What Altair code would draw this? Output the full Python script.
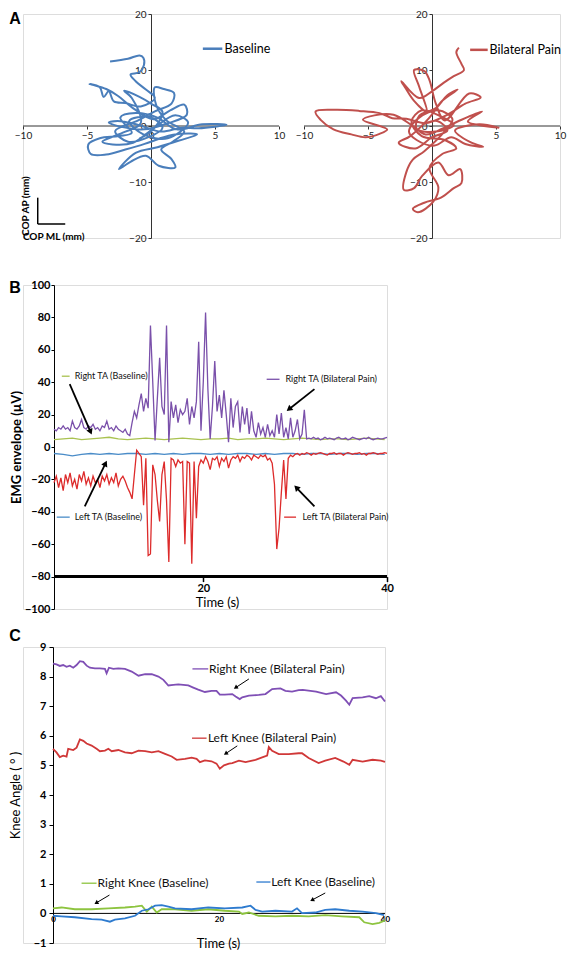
import math
import altair as alt
import pandas as pd

FONT = "Lato"

# ---------------- Panel A : centre of pressure traces (mm) ----------------
cop_baseline = [
    (-3.2, 11.5), (-1.8, 12.0), (-0.9, 12.6), (-0.6, 12.2), (-0.55, 10.9), (-0.9, 9.6),
    (-1.6, 9.2), (-1.2, 8.0), (-0.4, 6.5), (0.3, 5.0), (-0.8, 3.5), (-2.0, 4.1),
    (-2.9, 4.4), (-3.3, 6.2), (-3.7, 5.2), (-4.0, 6.9), (-4.8, 7.5), (-3.5, 6.6),
    (-2.6, 5.4), (-1.3, 3.0), (0.2, 1.2), (1.5, 2.8), (2.6, 3.8), (2.8, 2.0),
    (1.2, 0.4), (-0.5, -0.6), (-2.2, -0.2), (-3.3, 0.6), (-2.6, 0.9), (-1.0, 0.2),
    (0.8, -1.0), (2.4, -0.3), (3.7, -0.4), (5.9, 0.2), (4.0, 0.3), (2.0, -0.6),
    (0.5, 1.5), (-1.2, 2.3), (-2.4, 1.5), (-1.5, -1.2), (-2.5, -1.8), (-4.0, -2.2),
    (-4.9, -3.3), (-4.7, -5.0), (-3.5, -5.1), (-2.0, -4.2), (-0.5, -3.2), (1.0, -2.0),
    (2.3, -1.4), (3.6, -1.5), (2.2, -2.6), (0.5, -3.8), (-1.2, -4.8), (-2.5, -7.7),
    (-1.6, -6.4), (-0.4, -5.3), (0.6, -7.1), (1.9, -7.4), (1.6, -5.9), (0.8, -4.2),
    (1.7, -2.8), (2.6, -1.0), (1.2, 1.0), (0.4, 3.8), (0.3, 6.9), (1.0, 6.6),
    (1.8, 5.9), (1.6, 4.0), (0.3, 2.6), (-1.0, 1.0), (-2.8, -0.9), (-1.8, -2.8),
    (-0.2, -2.0), (0.9, -0.3), (-0.1, 1.6), (-1.7, 0.9), (-0.6, -1.5), (1.3, -2.2),
    (2.9, 0.6), (1.9, 1.9), (0.2, -0.4), (-1.4, -3.0), (-3.0, -3.3), (-3.8, -2.8),
    (-2.2, -1.2), (-0.8, 0.5), (-1.5, 5.0), (-2.1, 6.3), (-0.9, 5.2), (0.0, 4.0),
    (0.9, 2.5), (0.0, -1.0), (-0.9, -2.2),
]
cop_pain = [
    (2.1, 14.0), (1.9, 13.2), (2.3, 11.1), (2.5, 10.0), (1.7, 8.9), (0.9, 7.7),
    (0.0, 6.2), (-1.0, 5.0), (-2.4, 8.0), (-2.1, 6.9), (-1.4, 4.5), (-0.4, 2.5),
    (-1.0, 7.0), (-1.4, 10.0), (-0.6, 9.8), (-0.2, 8.2), (0.3, 4.0), (1.0, 1.0),
    (2.9, 5.8), (3.8, 5.1), (2.6, 4.0), (1.2, 2.0), (-0.5, 0.5), (-2.0, 1.3),
    (-3.1, 1.4), (-4.1, 2.3), (-5.7, 2.7), (-7.5, 2.9), (-9.1, 2.6), (-8.7, 1.1),
    (-7.7, -0.6), (-6.3, -1.5), (-5.2, -2.0), (-4.1, -1.4), (-3.5, -0.6), (-5.4, 1.1),
    (-4.5, 1.9), (-3.0, 2.0), (-1.5, 0.0), (-0.5, -1.5), (0.8, -0.5), (2.0, 0.8),
    (3.9, 2.6), (2.8, 0.8), (5.2, -0.3), (3.7, 0.3), (1.8, -0.8), (3.0, -2.9),
    (4.0, -3.7), (2.6, -3.2), (1.5, -2.0), (0.2, -3.5), (-1.2, -2.5), (-1.8, -1.0),
    (-1.0, 1.5), (0.5, 2.8), (1.6, 1.2), (0.9, -1.2), (-0.6, -4.5), (-1.5, -6.0),
    (-2.0, -8.2), (-2.2, -11.4), (-1.4, -11.1), (-0.8, -9.0), (0.5, -6.5), (1.3, -8.8),
    (2.2, -7.7), (2.3, -10.2), (1.7, -11.1), (0.7, -12.8), (-0.6, -13.7), (-1.5, -14.8),
    (-1.1, -15.4), (0.1, -13.5), (0.5, -11.0), (-0.2, -7.5), (0.8, -5.0), (1.9, -4.0),
    (1.0, -2.5), (-0.8, -1.8), (-1.6, 0.8), (-0.8, 2.8), (0.6, 1.8), (1.7, 0.2),
    (0.3, -1.0), (-1.2, -0.5), (-1.0, 1.8), (0.3, 3.2), (1.2, 5.5), (2.0, 6.5),
    (0.8, 4.5), (-0.2, 1.5), (-1.7, -1.8), (-2.6, -3.0), (-1.3, -4.0), (0.0, -2.0),
    (1.2, -0.8), (0.4, 0.9), (-0.7, 0.3),
]
cop_ticks_x = [-10, -5, 0, 5, 10]
cop_ticks_y = [-20, -15, -10, -5, 0, 5, 10, 15, 20]

# ---------------- Panel B : EMG envelopes (uV) ----------------
emg_start, emg_step = 3.75, 0.25
right_ta_pain = [
    11, 10, 12, 11, 13, 11, 12, 10, 16, 12, 11, 13, 17, 12, 11, 13, 12, 14, 11, 12,
    10, 13, 12, 16, 11, 12, 10, 13, 11, 10, 9, 11, 8, 7,
    15, 22, 18, 26, 33, 22, 30, 24, 75, 40, 4, 30, 55, 25, 20, 75, 3, 28, 18, 26,
    15, 23, 20, 22, 30, 14, 25, 18, 28, 65, 10, 40, 83, 36, 5, 25, 53, 22, 32, 18,
    35, 20, 3, 30, 12, 25, 28, 9, 25, 14, 24, 8, 22, 10, 6, 15, 8, 12, 6, 14,
    7, 10, 6, 20, 8, 21, 6, 12, 5, 18, 6, 10, 17, 5, 8, 23, 5,
    5.5, 5, 6, 5, 5.5, 4.5, 5, 6, 5, 5.5, 5, 4.5, 5.5, 6, 5, 5, 5.5, 4.5, 5, 6,
    5.5, 5, 4.5, 5, 5.5, 5, 6, 5, 4.5, 5, 5.5, 5, 5, 5.5, 6,
]
left_ta_pain = [
    -22, -18, -25, -19, -27, -17, -22, -16, -24, -20, -26, -17, -21, -15, -23, -19,
    -24, -18, -22, -20, -25, -18, -21, -17, -23, -19, -22, -16, -24, -20, -18, -21, -25, -28,
    -32, -17, -2, -4, -6, -36, -7, -67, -66, -11, -17, -33, -46, -17, -9, -33, -71, -7,
    -8, -12, -8, -10, -9, -60, -9, -10, -72, -9, -44, -12, -8, -10, -6, -9, -14, -7,
    -8, -6, -12, -7, -9, -6, -13, -8, -6, -7, -5, -9, -6, -7, -5, -6, -8, -5, -6, -7,
    -5, -6, -5, -8, -7, -10, -23, -63, -50, -28, -8, -32, -7, -5, -6,
    -4.5, -4, -5, -4, -4.5, -3.5, -4, -5, -4, -4.5, -4, -3.5, -4, -4.5, -5, -4, -4,
    -3.5, -4.5, -4, -4, -5, -4, -3.5, -4, -4.5, -4, -4, -3.5, -4.5, -4, -5, -4, -4,
    -3.5, -4, -4.5, -4, -4, -3.5, -4,
]
base_step = 1.0
right_ta_base = [4.5, 5, 5.5, 4.5, 5, 5.5, 6, 5, 4.5, 5, 5.5, 5, 4.5, 5, 5.5, 5, 4.5, 5, 5,
                 5.5, 4.5, 5, 5, 5.5, 5, 4.5, 5, 5.5, 5, 4.5, 5, 5, 4.5, 5, 5.5, 5, 4.5]
left_ta_base = [-4, -4.5, -5.5, -4.5, -4, -4.5, -4, -4.5, -4, -4, -4.5, -4, -4.5, -4, -4.5,
                -4, -4, -4.5, -4, -4.5, -4, -4, -4.5, -4, -4.5, -4, -4, -4.5, -4, -4, -4.5,
                -4, -4, -4.5, -4, -4, -4.5]
emg_ticks_y = [-100, -80, -60, -40, -20, 0, 20, 40, 60, 80, 100]
emg_ticks_x = [20, 40]

# ---------------- Panel C : knee angles (deg) ----------------
right_knee_pain = [
    (0.0, 8.44), (0.42, 8.41), (0.82, 8.36), (1.23, 8.39), (1.63, 8.33), (2.03, 8.37),
    (2.44, 8.30), (2.84, 8.39), (3.24, 8.52), (3.65, 8.50), (4.05, 8.37), (4.45, 8.30),
    (5.05, 8.28), (5.65, 8.28), (6.26, 8.26), (6.46, 8.11), (6.74, 8.30), (7.27, 8.26),
    (7.87, 8.28), (8.67, 8.26), (9.48, 8.17), (10.3, 8.03), (11.1, 8.08), (11.9, 8.08),
    (12.7, 8.0), (13.3, 7.89), (13.9, 7.70), (14.5, 7.72), (15.1, 7.74), (15.7, 7.72),
    (16.3, 7.70), (16.9, 7.63), (17.5, 7.56), (18.3, 7.48), (19.1, 7.52), (19.7, 7.52),
    (20.1, 7.39), (20.7, 7.39), (21.6, 7.41), (22.0, 7.33), (22.5, 7.24), (22.8, 7.30),
    (23.6, 7.36), (24.8, 7.38), (25.6, 7.41), (26.4, 7.58), (27.4, 7.60), (28.0, 7.52),
    (28.8, 7.49), (29.6, 7.54), (30.1, 7.55), (31.7, 7.49), (32.9, 7.41), (34.1, 7.47),
    (34.7, 7.36), (35.3, 7.19), (35.7, 7.05), (36.1, 7.27), (37.3, 7.30), (38.1, 7.34),
    (38.9, 7.27), (39.5, 7.34), (40.0, 7.16),
]
left_knee_pain = [
    (0.0, 5.56), (0.42, 5.44), (0.82, 5.28), (1.23, 5.33), (1.63, 5.30), (1.83, 5.56),
    (2.44, 5.52), (2.84, 5.60), (3.24, 5.88), (3.65, 5.83), (4.05, 5.74), (4.65, 5.67),
    (5.25, 5.56), (5.65, 5.48), (6.26, 5.50), (6.67, 5.56), (7.07, 5.48), (7.87, 5.52),
    (8.67, 5.44), (9.48, 5.41), (10.3, 5.50), (11.1, 5.48), (11.9, 5.44), (12.7, 5.48),
    (13.5, 5.39), (14.3, 5.30), (14.9, 5.19), (15.9, 5.22), (16.7, 5.26), (17.3, 5.22),
    (17.7, 5.11), (18.3, 5.17), (19.1, 5.14), (19.7, 5.06), (20.1, 4.89), (20.6, 5.00),
    (21.2, 5.06), (21.6, 5.08), (22.4, 5.16), (23.2, 5.11), (24.4, 5.19), (25.2, 5.27),
    (25.8, 5.33), (26.0, 5.62), (26.4, 5.49), (27.2, 5.38), (28.4, 5.38), (29.6, 5.41),
    (30.0, 5.41), (30.8, 5.25), (32.0, 5.08), (32.8, 5.16), (34.0, 5.25), (35.0, 5.13),
    (35.7, 5.02), (36.1, 5.19), (37.3, 5.13), (38.5, 5.19), (39.5, 5.16), (40.0, 5.12),
]
right_knee_base = [
    (0.0, 0.17), (1.03, 0.20), (2.63, 0.14), (4.65, 0.14), (6.67, 0.17), (8.67, 0.20),
    (9.88, 0.23), (10.7, 0.26), (11.3, 0.06), (11.9, 0.23), (12.5, 0.03), (13.1, 0.14),
    (14.7, 0.14), (16.7, 0.09), (18.7, 0.14), (20.7, 0.09), (22.4, 0.06), (22.8, -0.02),
    (23.6, 0.03), (24.8, -0.08), (26.8, -0.10), (28.8, -0.08), (30.8, -0.10), (32.8, -0.06),
    (34.8, -0.10), (36.9, -0.13), (37.5, -0.30), (38.5, -0.36), (39.3, -0.32), (40.0, -0.24),
]
left_knee_base = [
    (0.0, -0.08), (1.03, -0.10), (2.63, -0.13), (4.65, -0.19), (5.86, -0.21), (6.86, -0.28),
    (7.46, -0.21), (8.67, -0.17), (9.88, -0.08), (10.7, 0.09), (11.5, 0.14), (12.3, 0.26),
    (13.1, 0.28), (13.9, 0.23), (14.7, 0.17), (16.7, 0.14), (18.7, 0.20), (20.7, 0.17),
    (22.8, 0.20), (23.8, 0.26), (24.4, 0.12), (25.2, 0.06), (26.8, 0.09), (28.8, 0.06),
    (29.4, 0.17), (30.0, 0.01), (31.6, 0.03), (32.8, 0.12), (34.0, 0.14), (35.7, 0.09),
    (37.3, 0.06), (38.9, 0.01), (39.9, -0.06),
]
knee_ticks_y = [-1, 0, 1, 2, 3, 4, 5, 6, 7, 8, 9]
knee_ticks_x = [0, 20, 40]

# ---------------- layout constants ----------------
A_PW, A_H, A_GAP = 256, 224, 25
A_TW = 2 * A_PW + A_GAP
A_PPU = A_PW / 20.0
B_W, B_H, B_E = 333, 324, 31          # B_E: blank strip left of the EMG y-axis
C_W, C_H, C_E = 332, 296, 30
B_T = [3.75, 40]
B_YDOM = [-100, 100]
C_T = [0, 40]
C_YDOM = [-1, 9]
ROW_GAP = 12

COL_A_BASE, COL_A_PAIN = "#4A7EBB", "#C0504D"
COL_B = {"Right TA (Baseline)": "#A9C250", "Left TA (Baseline)": "#4A8CC8",
         "Right TA (Bilateral Pain)": "#7A50AA", "Left TA (Bilateral Pain)": "#DD2B2B"}
COL_C = {"Right Knee (Baseline)": "#8DC43F", "Left Knee (Baseline)": "#2E7BCF",
         "Right Knee (Bilateral Pain)": "#7F4FB5", "Left Knee (Bilateral Pain)": "#D03838"}


def arrow_frames(arrows, xppu, yppu, back_px):
    rules, heads = [], []
    for (x1, y1, x2, y2) in arrows:
        dx = (x2 - x1) * xppu
        dy = -(y2 - y1) * yppu
        length = math.hypot(dx, dy)
        ux, uy = dx / length, dy / length
        ang = math.degrees(math.atan2(ux, -uy)) % 360
        cx = x2 - ux * back_px / xppu
        cy = y2 + uy * back_px / yppu
        rules.append(dict(x=x1, y=y1, x2=cx, y2=cy))
        heads.append(dict(x=cx, y=cy, angle=ang))
    return pd.DataFrame(rules), pd.DataFrame(heads)


def letter(ch, dx, dy, opacity=1.0, baseline="middle"):
    return alt.Chart(pd.DataFrame({"t": [ch]})).mark_text(
        font="Liberation Sans", fontWeight="bold", fontSize=16, align="center",
        baseline=baseline, color="black", opacity=opacity).encode(
        text="t:N", x=alt.value(dx), y=alt.value(dy))


# ---------------- Panel A (one chart, two coordinate systems) ----------------
def cop_layer(points, name, color, xdom, y_offset, leg, extra=()):
    df = pd.DataFrame({"x": [p[0] for p in points], "y": [p[1] for p in points],
                       "i": list(range(len(points)))})
    xsc = alt.Scale(domain=xdom, nice=False, zero=False)
    ysc = alt.Scale(domain=[-20, 20], nice=False, zero=False)
    xaxis = alt.Axis(orient="bottom", offset=-A_H / 2, values=cop_ticks_x, grid=False,
                     domain=False, title=None, labelFont=FONT, labelFontSize=10,
                     labelColor="#222", tickColor="#333", tickSize=3, labelPadding=1,
                     labelFlush=False, labelOverlap=False)
    yaxis = alt.Axis(orient="left", offset=y_offset, values=cop_ticks_y, grid=False,
                     title=None, labelFont=FONT, labelFontSize=10, labelColor="#222",
                     domainColor="#333", tickColor="#333", tickSize=3, labelPadding=2,
                     labelFlush=False, labelOverlap=False)
    axis_line = alt.Chart(pd.DataFrame({"x": [-10], "x2": [10], "y": [0]})).mark_rule(
        color="#333", strokeWidth=1).encode(
        x=alt.X("x:Q", scale=xsc, axis=xaxis), x2="x2:Q",
        y=alt.Y("y:Q", scale=ysc, axis=yaxis))
    line = alt.Chart(df).mark_line(strokeWidth=2, interpolate="catmull-rom",
                                   color=color).encode(
        x="x:Q", y="y:Q", order="i:Q")
    leg_df = pd.DataFrame({"x": [leg[0]], "x2": [leg[1]], "y": [leg[2]], "tx": [leg[3]],
                           "t": [name]})
    leg_rule = alt.Chart(leg_df).mark_rule(color=color, strokeWidth=2.5).encode(
        x="x:Q", x2="x2:Q", y="y:Q")
    leg_text = alt.Chart(leg_df).mark_text(font=FONT, fontSize=12.5, align="left",
                                           baseline="middle", color="black").encode(
        x="tx:Q", y="y:Q", text="t:N")
    return alt.layer(axis_line, line, leg_rule, leg_text, *extra)


ind_rules = pd.DataFrame({"x": [-8.85, -8.85], "y": [-12.8, -17.5],
                          "x2": [-8.85, -6.7], "y2": [-17.5, -17.5]})
ind_texts = pd.DataFrame({"t": ["COP AP (mm)", "COP ML (mm)"], "x": [-9.75, -7.6],
                          "y": [-14.3, -19.9], "a": [270, 0]})
indicator = [
    alt.Chart(ind_rules).mark_rule(color="black", strokeWidth=1.5).encode(
        x="x:Q", y="y:Q", x2="x2:Q", y2="y2:Q"),
    alt.Chart(ind_texts).mark_text(font=FONT, fontSize=10, fontWeight="bold",
                                   color="black", baseline="middle").encode(
        x="x:Q", y="y:Q", text="t:N", angle=alt.Angle("a:Q", scale=None)),
    letter("A", -8, 5),
]
span = A_TW / A_PPU
a_left = cop_layer(cop_baseline, "Baseline", COL_A_BASE, [-10, -10 + span],
                   -10 * A_PPU, (4.05, 5.57, 13.8, 5.75), indicator)
a_right = cop_layer(cop_pain, "Bilateral Pain", COL_A_PAIN, [10 - span, 10],
                    -(A_TW - 10 * A_PPU), (2.98, 4.35, 13.6, 4.5))
a_chart = alt.layer(a_left, a_right).resolve_scale(
    x="independent", y="independent").resolve_axis(x="independent", y="independent"
).properties(width=A_TW, height=A_H)

# ---------------- Panel B ----------------
b_rows = []
for name, vals, t0, st in [
    ("Right TA (Baseline)", right_ta_base, emg_start, base_step),
    ("Left TA (Baseline)", left_ta_base, emg_start, base_step),
    ("Right TA (Bilateral Pain)", right_ta_pain, emg_start, emg_step),
    ("Left TA (Bilateral Pain)", left_ta_pain, emg_start, emg_step),
]:
    for k, v in enumerate(vals):
        b_rows.append({"t": min(t0 + k * st, 40.0), "v": v, "s": name, "i": k})
b_df = pd.DataFrame(b_rows)
b_xppu = B_W / (B_T[1] - B_T[0])
b_yppu = B_H / (B_YDOM[1] - B_YDOM[0])
b_xsc = alt.Scale(domain=[B_T[0] - B_E / b_xppu, B_T[1]], nice=False, zero=False)
b_ysc = alt.Scale(domain=B_YDOM, nice=False, zero=False)
b_color = alt.Scale(domain=list(COL_B.keys()), range=list(COL_B.values()))

b_xaxis = alt.Axis(
    orient="bottom", offset=-20 * b_yppu, values=emg_ticks_x, domain=False,
    grid=False, title="Time (s)", titleFont=FONT, titleFontSize=13,
    titleFontWeight="normal", titleColor="black", titlePadding=3,
    titleX=B_E + 163, titleAnchor="start", titleAlign="center",
    labelFont=FONT, labelFontSize=11, labelFontWeight="bold", labelColor="black",
    tickColor="black", tickWidth=1.5, tickSize=5, labelPadding=1, labelFlush=False,
    labelOverlap=False, tickCount=len(emg_ticks_x))
b_yaxis = alt.Axis(
    orient="left", offset=-B_E, values=emg_ticks_y, grid=False,
    title="EMG envelope (µV)", titleFont=FONT,
    titleFontSize=13, titleFontWeight="bold", titleColor="black", titlePadding=1,
    labelFont=FONT, labelFontSize=11, labelFontWeight="bold", labelColor="black",
    domainColor="black", tickColor="black", tickSize=3, labelPadding=1,
    labelFlush=False, labelOverlap=False, labelSeparation=0,
    tickCount=len(emg_ticks_y))

b_axis_line = alt.Chart(pd.DataFrame({"x": [B_T[0]], "x2": [B_T[1]], "y": [-80]})).mark_rule(
    color="black", strokeWidth=3).encode(
    x=alt.X("x:Q", scale=b_xsc, axis=b_xaxis), x2="x2:Q",
    y=alt.Y("y:Q", scale=b_ysc, axis=b_yaxis))
b_lines = alt.Chart(b_df).mark_line(strokeWidth=1.3).encode(
    x=alt.X("t:Q", scale=b_xsc, axis=b_xaxis),
    y=alt.Y("v:Q", scale=b_ysc, axis=b_yaxis),
    color=alt.Color("s:N", scale=b_color, legend=None),
    detail="s:N", order="i:Q",
)
b_labels = pd.DataFrame({
    "s": ["Right TA (Baseline)", "Right TA (Bilateral Pain)", "Left TA (Baseline)",
          "Left TA (Bilateral Pain)"],
    "x1": [4.6, 26.9, 4.05, 28.8], "x2": [5.45, 28.3, 5.46, 30.1],
    "y": [43.7, 41.8, -43.3, -43.3], "tx": [6.0, 28.95, 6.0, 30.8]})
b_arrows = [(5.46, 38.8, 7.86, 7.6), (32.1, 35.7, 29.07, 22.2),
            (7.1, -36.6, 9.5, -8.4), (32.1, -36.6, 29.9, -23.7)]
b_ar_rules, b_ar_heads = arrow_frames(b_arrows, b_xppu, b_yppu, 3)
b_chart = alt.layer(
    b_axis_line,
    b_lines,
    alt.Chart(b_labels).mark_rule(strokeWidth=1.3).encode(
        x="x1:Q", x2="x2:Q", y="y:Q", color=alt.Color("s:N", scale=b_color, legend=None)),
    alt.Chart(b_labels).mark_text(font=FONT, fontSize=9, align="left", baseline="middle",
                                  color="#111").encode(x="tx:Q", y="y:Q", text="s:N"),
    alt.Chart(b_ar_rules).mark_rule(color="black", strokeWidth=1.8).encode(
        x="x:Q", y="y:Q", x2="x2:Q", y2="y2:Q"),
    alt.Chart(b_ar_heads).mark_point(shape="triangle-up", filled=True, size=45,
                                     color="black", opacity=1).encode(
        x="x:Q", y="y:Q", angle=alt.Angle("angle:Q", scale=None)),
    letter("B", -8, 3),
    letter("B", -8, -28, opacity=0, baseline="top"),
).properties(width=B_W + B_E, height=B_H)

# ---------------- Panel C ----------------
c_rows = []
for name, pts in [("Right Knee (Baseline)", right_knee_base),
                  ("Left Knee (Baseline)", left_knee_base),
                  ("Right Knee (Bilateral Pain)", right_knee_pain),
                  ("Left Knee (Bilateral Pain)", left_knee_pain)]:
    for k, (t, v) in enumerate(pts):
        c_rows.append({"t": t, "v": v, "s": name, "i": k})
c_df = pd.DataFrame(c_rows)
c_xppu = C_W / (C_T[1] - C_T[0])
c_yppu = C_H / (C_YDOM[1] - C_YDOM[0])
c_xsc = alt.Scale(domain=[C_T[0] - C_E / c_xppu, C_T[1]], nice=False, zero=False)
c_ysc = alt.Scale(domain=C_YDOM, nice=False, zero=False)
c_color = alt.Scale(domain=list(COL_C.keys()), range=list(COL_C.values()))

c_xaxis = alt.Axis(
    orient="bottom", offset=-(0 - C_YDOM[0]) * c_yppu, values=knee_ticks_x, grid=False,
    domain=False, title="Time (s)", titleFont=FONT, titleFontSize=13,
    titleFontWeight="normal", titleColor="black", titlePadding=14,
    titleX=C_E + 165, titleAnchor="start", titleAlign="center",
    labelFont=FONT, labelFontSize=8, labelFontWeight="bold", labelColor="black",
    ticks=False, labelPadding=2, labelFlush=False, labelOverlap=False,
    tickCount=len(knee_ticks_x))
c_yaxis = alt.Axis(
    orient="left", offset=-C_E, values=knee_ticks_y, grid=False,
    title="Knee Angle ( ° )", titleFont=FONT,
    titleFontSize=13, titleFontWeight="normal", titleColor="black", titlePadding=11,
    labelFont=FONT, labelFontSize=11, labelFontWeight="bold", labelColor="black",
    domainColor="black", tickColor="black", tickSize=4, labelPadding=3,
    labelFlush=False, labelOverlap=False, labelSeparation=0,
    tickCount=len(knee_ticks_y))

c_axis_line = alt.Chart(pd.DataFrame({"x": [C_T[0]], "x2": [C_T[1]], "y": [0]})).mark_rule(
    color="black", strokeWidth=1).encode(
    x=alt.X("x:Q", scale=c_xsc, axis=c_xaxis), x2="x2:Q",
    y=alt.Y("y:Q", scale=c_ysc, axis=c_yaxis))
c_lines = alt.Chart(c_df).mark_line(strokeWidth=1.8).encode(
    x=alt.X("t:Q", scale=c_xsc, axis=c_xaxis),
    y=alt.Y("v:Q", scale=c_ysc, axis=c_yaxis),
    color=alt.Color("s:N", scale=c_color, legend=None),
    detail="s:N", order="i:Q",
)
c_labels = pd.DataFrame({
    "s": ["Right Knee (Bilateral Pain)", "Left Knee (Bilateral Pain)",
          "Right Knee (Baseline)", "Left Knee (Baseline)"],
    "x1": [16.8, 16.75, 3.44, 24.5], "x2": [18.7, 18.5, 5.25, 26.2],
    "y": [8.26, 5.92, 1.02, 1.06], "tx": [18.8, 18.66, 5.37, 26.3]})
c_arrows = [(23.6, 7.92, 21.8, 7.59), (22.2, 5.66, 20.6, 5.36),
            (6.8, 0.62, 5.0, 0.32), (32.8, 0.69, 31.0, 0.42)]
c_ar_rules, c_ar_heads = arrow_frames(c_arrows, c_xppu, c_yppu, 2)
c_chart = alt.layer(
    c_axis_line,
    c_lines,
    alt.Chart(c_labels).mark_rule(strokeWidth=1.3).encode(
        x="x1:Q", x2="x2:Q", y="y:Q", color=alt.Color("s:N", scale=c_color, legend=None)),
    alt.Chart(c_labels).mark_text(font=FONT, fontSize=12, align="left", baseline="middle",
                                  color="#111").encode(x="tx:Q", y="y:Q", text="s:N"),
    alt.Chart(c_ar_rules).mark_rule(color="black", strokeWidth=1).encode(
        x="x:Q", y="y:Q", x2="x2:Q", y2="y2:Q"),
    alt.Chart(c_ar_heads).mark_point(shape="triangle-up", filled=True, size=22,
                                     color="black", opacity=1).encode(
        x="x:Q", y="y:Q", angle=alt.Angle("angle:Q", scale=None)),
    letter("C", -8, -11),
).properties(width=C_W + C_E, height=C_H)

chart = alt.vconcat(a_chart, b_chart, c_chart, spacing=ROW_GAP).resolve_scale(
    x="independent", y="independent", color="independent"
).properties(padding=0).configure_view(stroke="transparent", strokeWidth=0).configure_axis(
    labelOverlap=False).configure(font=FONT)

chart.save("out.html", embed_options={"renderer": "svg", "actions": False})
